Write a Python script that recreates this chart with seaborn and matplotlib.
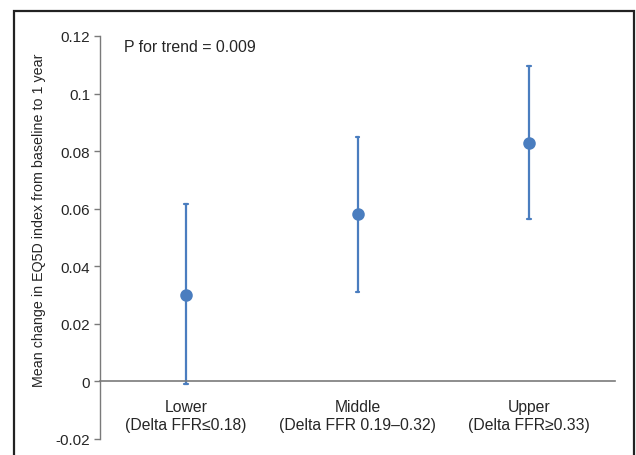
import numpy as np
import pandas as pd
import seaborn as sns
import matplotlib.pyplot as plt
from matplotlib.patches import Rectangle

# values
groups = ['Lower\n(Delta FFR\u22640.18)', 'Middle\n(Delta FFR 0.19\u20130.32)', 'Upper\n(Delta FFR\u22650.33)']
means = [0.030, 0.058, 0.083]
ci_low = [-0.001, 0.031, 0.0565]
ci_high = [0.0615, 0.085, 0.1095]
y_ticks = [-0.02, 0, 0.02, 0.04, 0.06, 0.08, 0.1, 0.12]
y_tick_labels = ['-0.02', '0', '0.02', '0.04', '0.06', '0.08', '0.1', '0.12']
note = 'P for trend = 0.009'

# long form: low / mean / high per group, median gives the mean, min/max give the interval
data = pd.DataFrame({
    'Group': np.repeat(groups, 3),
    'Value': np.ravel(np.column_stack([ci_low, means, ci_high])),
})

sns.set_style('white')
plt.rcParams['font.family'] = ['Liberation Sans', 'DejaVu Sans']

blue = '#4a7dbf'
grey = '#7a7a7a'

fig = plt.figure(figsize=(6.36, 4.56), dpi=100)
ax = fig.add_axes([100 / 636, 16 / 456, 515 / 636, 403 / 456])

sns.pointplot(data=data, x='Group', y='Value', order=groups, estimator=np.median,
              errorbar=lambda v: (v.min(), v.max()), linestyle='none', color=blue,
              markers='o', markersize=7, err_kws={'linewidth': 1.6}, capsize=0.02, ax=ax)

ax.set_xlim(-0.5, 2.5)
ax.set_ylim(-0.02, 0.12)
ax.set_yticks(y_ticks)
ax.set_yticklabels(y_tick_labels, fontsize=11)

for side in ['top', 'right']:
    ax.spines[side].set_visible(False)
ax.spines['left'].set_color(grey)
ax.spines['bottom'].set_color(grey)
ax.spines['bottom'].set_position(('data', 0))
ax.spines['left'].set_linewidth(1.0)
ax.spines['bottom'].set_linewidth(1.2)

# category boundaries as major ticks, names as minor ticks
ax.set_xticks([-0.5, 0.5, 1.5, 2.5])
ax.set_xticklabels([])
ax.set_xticks([0, 1, 2], minor=True)
ax.set_xticklabels(groups, minor=True, fontsize=11.3, linespacing=1.25)
ax.tick_params(axis='x', which='major', direction='out', length=4, color=grey, width=1)
ax.tick_params(axis='x', which='minor', length=0, pad=13)
ax.tick_params(axis='y', direction='out', length=4, color=grey, width=1, pad=3, left=True)
ax.set_xlabel('')

ax.set_ylabel('Mean change in EQ5D index from baseline to 1 year', fontsize=10.3)
ax.yaxis.set_label_coords(-0.105, 0.546)

ax.text(0.047, 0.975, note, transform=ax.transAxes, fontsize=11.4, va='center', ha='left')

# outer frame around the picture
fig.patches.append(Rectangle((14 / 636, -0.05), 620 / 636, 1.05 - 12 / 456,
                             transform=fig.transFigure, fill=False,
                             edgecolor='#222222', linewidth=1.6))

fig.savefig('out.png', dpi=100)
